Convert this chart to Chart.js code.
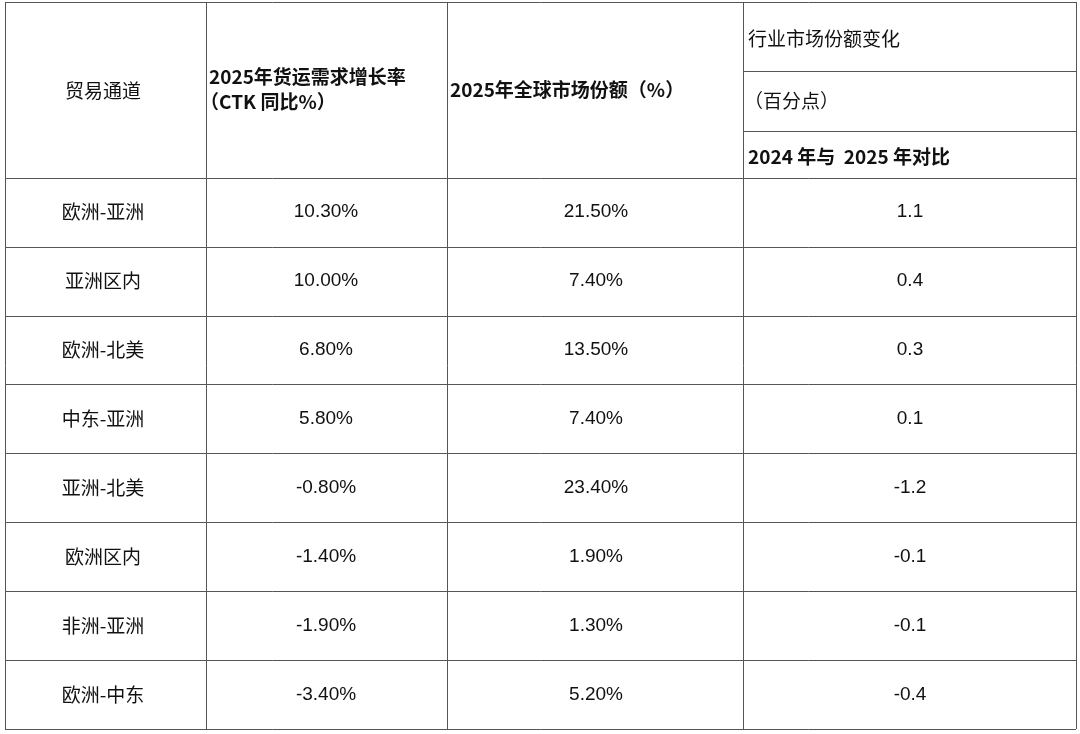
<!DOCTYPE html>
<html><head><meta charset="utf-8">
<script src="https://cdn.jsdelivr.net/npm/chart.js@4"></script>
<style>html,body{margin:0;background:#fff}#wrap{width:1080px;height:734px}</style>
</head><body><div id="wrap"><canvas id="c"></canvas></div>
<script>
const lanes = ['欧洲-亚洲','亚洲区内','欧洲-北美','中东-亚洲','亚洲-北美','欧洲区内','非洲-亚洲','欧洲-中东'];
const growth = ['10.30%','10.00%','6.80%','5.80%','-0.80%','-1.40%','-1.90%','-3.40%'];
const share = ['21.50%','7.40%','13.50%','7.40%','23.40%','1.90%','1.30%','5.20%'];
const change = ['1.1','0.4','0.3','0.1','-1.2','-0.1','-0.1','-0.4'];

const colX = [5, 206, 447, 743, 1076];
const cjk = '"Noto Sans CJK SC", sans-serif';
const num = '"Liberation Sans", Arial, sans-serif';

const tablePlugin = {
  id: 'table',
  afterDraw(chart) {
    const c = chart.ctx, y = chart.scales.y;
    c.save();
    c.strokeStyle = '#555'; c.lineWidth = 1;
    const top = y.getPixelForValue(-2.55), bot = y.getPixelForValue(lanes.length);
    for (const x of colX) { c.beginPath(); c.moveTo(x + .5, top); c.lineTo(x + .5, bot); c.stroke(); }
    for (let i = 0; i <= lanes.length; i++) {
      const py = Math.round(y.getPixelForValue(i)) + .5;
      c.beginPath(); c.moveTo(colX[0], py); c.lineTo(colX[4], py); c.stroke();
    }
    c.beginPath(); c.moveTo(colX[0], top + .5); c.lineTo(colX[4], top + .5); c.stroke();
    [-1.55, -0.68].forEach(v => { const py = Math.round(y.getPixelForValue(v)) + .5;
      c.beginPath(); c.moveTo(colX[3], py); c.lineTo(colX[4], py); c.stroke(); });
    c.fillStyle = '#111'; c.textBaseline = 'middle';
    // header
    c.textAlign = 'center'; c.font = '19px ' + cjk;
    c.fillText('贸易通道', 103, y.getPixelForValue(-1.26));
    c.textAlign = 'left'; c.font = 'bold 19px ' + cjk;
    c.fillText('2025年货运需求增长率', 209, y.getPixelForValue(-1.47));
    c.fillText('（CTK 同比%）', 200, y.getPixelForValue(-1.1));
    c.fillText('2025年全球市场份额（%）', 450, y.getPixelForValue(-1.28));
    c.font = '19px ' + cjk;
    c.fillText('行业市场份额变化', 748, y.getPixelForValue(-2.02));
    c.fillText('（百分点）', 744, y.getPixelForValue(-1.12));
    c.font = 'bold 19px ' + cjk;
    c.fillText('2024 年与  2025 年对比', 748, y.getPixelForValue(-0.3));
    // rows
    c.textAlign = 'center';
    lanes.forEach((l, i) => {
      const py = y.getPixelForValue(i + 0.5);
      c.font = '19px ' + cjk; c.fillText(l, 103, py);
      c.font = '19px ' + num;
      c.fillText(growth[i], 326, py);
      c.fillText(share[i], 596, py);
      c.fillText(change[i], 910, py);
    });
    c.restore();
  }
};

new Chart(document.getElementById('c'), {
  type: 'bar',
  data: { labels: lanes, datasets: [] },
  options: {
    responsive: true, maintainAspectRatio: false, animation: false,
    layout: { padding: { top: 2, bottom: 5, left: 0, right: 0 } },
    plugins: { legend: { display: false }, tooltip: { enabled: false } },
    scales: {
      x: { display: false },
      y: { type: 'linear', reverse: true, min: -2.55, max: lanes.length, display: false }
    }
  },
  plugins: [tablePlugin]
});
</script></body></html>
